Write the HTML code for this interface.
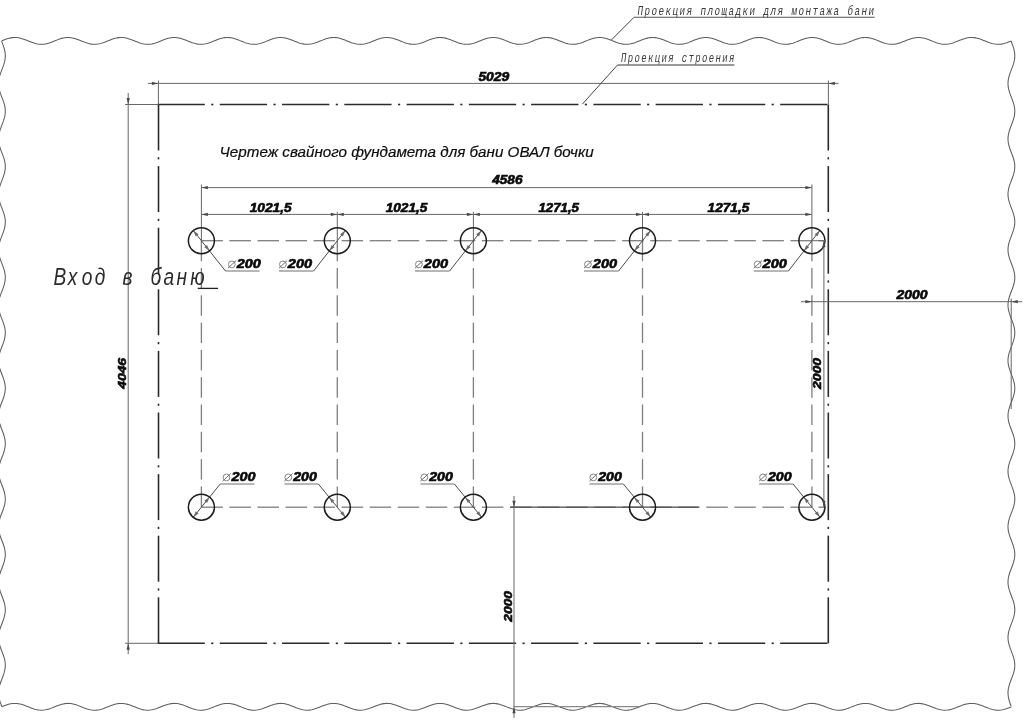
<!DOCTYPE html>
<html><head><meta charset="utf-8"><title>Drawing</title>
<style>html,body{margin:0;padding:0;background:#fff;overflow:hidden;width:1024px;height:724px;font-family:"Liberation Sans",sans-serif}svg{display:block;will-change:transform}</style>
</head><body>
<svg width="1024" height="724" viewBox="0 0 1024 724">
<polyline fill="none" stroke="#5e5e5e" stroke-width="1.05" points="1.9,40.76 3.4,40.17 4.9,39.59 6.39,39.06 7.89,38.59 9.39,38.18 10.89,37.87 12.38,37.64 13.88,37.52 15.38,37.51 16.88,37.6 18.38,37.79 19.87,38.08 21.37,38.46 22.87,38.92 24.37,39.43 25.86,40 27.36,40.59 28.86,41.19 30.36,41.78 31.86,42.35 33.35,42.87 34.85,43.32 36.35,43.71 37.85,44 39.34,44.2 40.84,44.29 42.34,44.28 43.84,44.16 45.34,43.94 46.83,43.63 48.33,43.23 49.83,42.76 51.33,42.22 52.82,41.65 54.32,41.06 55.82,40.46 57.32,39.87 58.82,39.31 60.31,38.81 61.81,38.37 63.31,38.01 64.81,37.74 66.3,37.57 67.8,37.5 69.3,37.54 70.8,37.68 72.3,37.93 73.79,38.27 75.29,38.69 76.79,39.18 78.29,39.72 79.78,40.3 81.28,40.9 82.78,41.5 84.28,42.08 85.78,42.62 87.27,43.11 88.77,43.53 90.27,43.87 91.77,44.11 93.26,44.26 94.76,44.3 96.26,44.23 97.76,44.06 99.26,43.79 100.75,43.43 102.25,42.99 103.75,42.49 105.25,41.93 106.74,41.35 108.24,40.75 109.74,40.15 111.24,39.58 112.74,39.05 114.23,38.57 115.73,38.17 117.23,37.86 118.73,37.64 120.22,37.52 121.72,37.51 123.22,37.6 124.72,37.8 126.22,38.09 127.71,38.47 129.21,38.93 130.71,39.45 132.21,40.01 133.7,40.61 135.2,41.21 136.7,41.8 138.2,42.36 139.7,42.88 141.19,43.34 142.69,43.72 144.19,44.01 145.69,44.2 147.18,44.29 148.68,44.28 150.18,44.16 151.68,43.94 153.18,43.62 154.67,43.22 156.17,42.74 157.67,42.21 159.17,41.64 160.66,41.04 162.16,40.44 163.66,39.85 165.16,39.3 166.66,38.8 168.15,38.36 169.65,38 171.15,37.73 172.65,37.56 174.14,37.5 175.64,37.54 177.14,37.69 178.64,37.94 180.14,38.28 181.63,38.7 183.13,39.19 184.63,39.73 186.13,40.32 187.62,40.91 189.12,41.51 190.62,42.09 192.12,42.63 193.62,43.12 195.11,43.54 196.61,43.88 198.11,44.12 199.61,44.26 201.1,44.3 202.6,44.23 204.1,44.06 205.6,43.78 207.1,43.42 208.59,42.98 210.09,42.47 211.59,41.92 213.09,41.33 214.58,40.73 216.08,40.14 217.58,39.56 219.08,39.03 220.58,38.56 222.07,38.16 223.57,37.85 225.07,37.63 226.57,37.52 228.06,37.51 229.56,37.61 231.06,37.8 232.56,38.1 234.06,38.48 235.55,38.94 237.05,39.46 238.55,40.03 240.05,40.62 241.54,41.22 243.04,41.81 244.54,42.38 246.04,42.89 247.54,43.35 249.03,43.72 250.53,44.01 252.03,44.21 253.53,44.29 255.02,44.28 256.52,44.15 258.02,43.93 259.52,43.61 261.01,43.2 262.51,42.73 264.01,42.19 265.51,41.62 267.01,41.02 268.5,40.42 270,39.84 271.5,39.29 273,38.78 274.49,38.35 275.99,37.99 277.49,37.73 278.99,37.56 280.49,37.5 281.98,37.55 283.48,37.7 284.98,37.95 286.48,38.29 287.97,38.71 289.47,39.21 290.97,39.75 292.47,40.33 293.97,40.93 295.46,41.53 296.96,42.11 298.46,42.65 299.96,43.14 301.45,43.55 302.95,43.89 304.45,44.13 305.95,44.26 307.45,44.3 308.94,44.23 310.44,44.05 311.94,43.77 313.44,43.41 314.93,42.97 316.43,42.46 317.93,41.9 319.43,41.31 320.93,40.71 322.42,40.12 323.92,39.55 325.42,39.02 326.92,38.55 328.41,38.15 329.91,37.84 331.41,37.63 332.91,37.52 334.41,37.51 335.9,37.61 337.4,37.81 338.9,38.11 340.4,38.5 341.89,38.96 343.39,39.48 344.89,40.05 346.39,40.64 347.89,41.24 349.38,41.83 350.88,42.39 352.38,42.91 353.88,43.36 355.37,43.73 356.87,44.02 358.37,44.21 359.87,44.3 361.37,44.27 362.86,44.15 364.36,43.92 365.86,43.6 367.36,43.19 368.85,42.71 370.35,42.18 371.85,41.6 373.35,41.01 374.85,40.41 376.34,39.82 377.84,39.27 379.34,38.77 380.84,38.34 382.33,37.98 383.83,37.72 385.33,37.56 386.83,37.5 388.33,37.55 389.82,37.7 391.32,37.95 392.82,38.3 394.32,38.73 395.81,39.22 397.31,39.77 398.81,40.35 400.31,40.95 401.81,41.55 403.3,42.12 404.8,42.66 406.3,43.15 407.8,43.56 409.29,43.89 410.79,44.13 412.29,44.27 413.79,44.3 415.29,44.22 416.78,44.04 418.28,43.77 419.78,43.4 421.28,42.95 422.77,42.44 424.27,41.89 425.77,41.3 427.27,40.7 428.77,40.1 430.26,39.53 431.76,39.01 433.26,38.54 434.76,38.14 436.25,37.84 437.75,37.62 439.25,37.52 440.75,37.51 442.25,37.61 443.74,37.82 445.24,38.12 446.74,38.51 448.24,38.97 449.73,39.5 451.23,40.06 452.73,40.66 454.23,41.26 455.73,41.85 457.22,42.41 458.72,42.92 460.22,43.37 461.72,43.74 463.21,44.03 464.71,44.21 466.21,44.3 467.71,44.27 469.21,44.14 470.7,43.91 472.2,43.59 473.7,43.18 475.2,42.7 476.69,42.16 478.19,41.59 479.69,40.99 481.19,40.39 482.69,39.81 484.18,39.26 485.68,38.76 487.18,38.33 488.68,37.97 490.17,37.72 491.67,37.56 493.17,37.5 494.67,37.55 496.17,37.71 497.66,37.96 499.16,38.31 500.66,38.74 502.16,39.23 503.65,39.78 505.15,40.37 506.65,40.97 508.15,41.56 509.65,42.14 511.14,42.68 512.64,43.16 514.14,43.57 515.64,43.9 517.13,44.14 518.63,44.27 520.13,44.3 521.63,44.22 523.13,44.04 524.62,43.76 526.12,43.39 527.62,42.94 529.12,42.43 530.61,41.87 532.11,41.28 533.61,40.68 535.11,40.09 536.61,39.52 538.1,38.99 539.6,38.53 541.1,38.13 542.6,37.83 544.09,37.62 545.59,37.51 547.09,37.51 548.59,37.62 550.09,37.83 551.58,38.13 553.08,38.52 554.58,38.99 556.08,39.51 557.57,40.08 559.07,40.67 560.57,41.27 562.07,41.86 563.57,42.42 565.06,42.93 566.56,43.38 568.06,43.75 569.56,44.03 571.05,44.22 572.55,44.3 574.05,44.27 575.55,44.14 577.05,43.9 578.54,43.58 580.04,43.17 581.54,42.68 583.04,42.15 584.53,41.57 586.03,40.97 587.53,40.37 589.03,39.79 590.53,39.24 592.02,38.74 593.52,38.31 595.02,37.97 596.52,37.71 598.01,37.55 599.51,37.5 601.01,37.55 602.51,37.71 604.01,37.97 605.5,38.32 607,38.75 608.5,39.25 610,39.8 611.49,40.38 612.99,40.98 614.49,41.58 615.99,42.16 617.49,42.69 618.98,43.17 620.48,43.58 621.98,43.91 623.48,44.14 624.97,44.27 626.47,44.3 627.97,44.22 629.47,44.03 630.97,43.75 632.46,43.38 633.96,42.93 635.46,42.41 636.96,41.85 638.45,41.26 639.95,40.66 641.45,40.07 642.95,39.5 644.45,38.98 645.94,38.51 647.44,38.12 648.94,37.82 650.44,37.62 651.93,37.51 653.43,37.51 654.93,37.62 656.43,37.83 657.93,38.14 659.42,38.53 660.92,39 662.42,39.53 663.92,40.1 665.41,40.69 666.91,41.29 668.41,41.88 669.91,42.44 671.41,42.95 672.9,43.39 674.4,43.76 675.9,44.04 677.4,44.22 678.89,44.3 680.39,44.27 681.89,44.13 683.39,43.9 684.89,43.57 686.38,43.15 687.88,42.67 689.38,42.13 690.88,41.55 692.37,40.96 693.87,40.36 695.37,39.77 696.87,39.23 698.37,38.73 699.86,38.3 701.36,37.96 702.86,37.7 704.36,37.55 705.85,37.5 707.35,37.56 708.85,37.72 710.35,37.98 711.85,38.33 713.34,38.76 714.84,39.26 716.34,39.81 717.84,40.4 719.33,41 720.83,41.6 722.33,42.17 723.83,42.71 725.33,43.19 726.82,43.59 728.32,43.92 729.82,44.15 731.32,44.27 732.81,44.3 734.31,44.21 735.81,44.02 737.31,43.74 738.81,43.36 740.3,42.91 741.8,42.4 743.3,41.84 744.8,41.25 746.29,40.65 747.79,40.05 749.29,39.49 750.79,38.96 752.29,38.5 753.78,38.11 755.28,37.81 756.78,37.61 758.28,37.51 759.77,37.52 761.27,37.63 762.77,37.84 764.27,38.15 765.76,38.54 767.26,39.01 768.76,39.54 770.26,40.11 771.76,40.71 773.25,41.31 774.75,41.9 776.25,42.45 777.75,42.96 779.24,43.41 780.74,43.77 782.24,44.05 783.74,44.22 785.24,44.3 786.73,44.27 788.23,44.13 789.73,43.89 791.23,43.56 792.72,43.14 794.22,42.66 795.72,42.12 797.22,41.54 798.72,40.94 800.21,40.34 801.71,39.76 803.21,39.21 804.71,38.72 806.2,38.29 807.7,37.95 809.2,37.7 810.7,37.55 812.2,37.5 813.69,37.56 815.19,37.72 816.69,37.99 818.19,38.34 819.68,38.78 821.18,39.28 822.68,39.83 824.18,40.42 825.68,41.02 827.17,41.61 828.67,42.19 830.17,42.72 831.67,43.2 833.16,43.6 834.66,43.92 836.16,44.15 837.66,44.28 839.16,44.29 840.65,44.21 842.15,44.02 843.65,43.73 845.15,43.35 846.64,42.9 848.14,42.38 849.64,41.82 851.14,41.23 852.64,40.63 854.13,40.04 855.63,39.47 857.13,38.95 858.63,38.49 860.12,38.11 861.62,37.81 863.12,37.61 864.62,37.51 866.12,37.52 867.61,37.63 869.11,37.85 870.61,38.16 872.11,38.56 873.6,39.03 875.1,39.56 876.6,40.13 878.1,40.72 879.6,41.32 881.09,41.91 882.59,42.47 884.09,42.97 885.59,43.42 887.08,43.78 888.58,44.05 890.08,44.23 891.58,44.3 893.08,44.26 894.57,44.12 896.07,43.88 897.57,43.55 899.07,43.13 900.56,42.64 902.06,42.1 903.56,41.52 905.06,40.92 906.56,40.32 908.05,39.74 909.55,39.2 911.05,38.7 912.55,38.28 914.04,37.94 915.54,37.69 917.04,37.54 918.54,37.5 920.04,37.56 921.53,37.73 923.03,38 924.53,38.35 926.03,38.79 927.52,39.29 929.02,39.85 930.52,40.43 932.02,41.03 933.52,41.63 935.01,42.2 936.51,42.74 938.01,43.21 939.51,43.61 941,43.93 942.5,44.16 944,44.28 945.5,44.29 947,44.2 948.49,44.01 949.99,43.72 951.49,43.34 952.99,42.89 954.48,42.37 955.98,41.81 957.48,41.21 958.98,40.61 960.48,40.02 961.97,39.46 963.47,38.94 964.97,38.48 966.47,38.1 967.96,37.8 969.46,37.6 970.96,37.51 972.46,37.52 973.96,37.64 975.45,37.86 976.95,38.17 978.45,38.57 979.95,39.04 981.44,39.57 982.94,40.14 984.44,40.74 985.94,41.34 987.44,41.93 988.93,42.48 990.43,42.99 991.93,43.43 993.43,43.79 994.92,44.06 996.42,44.23 997.92,44.3 999.42,44.26 1000.92,44.12 1002.41,43.87 1003.91,43.54 1005.41,43.12 1006.91,42.63 1008.4,42.08 1009.9,41.5 1011.4,40.91"/>
<polyline fill="none" stroke="#5e5e5e" stroke-width="1.05" points="1.9,706.66 3.4,706.07 4.9,705.49 6.39,704.96 7.89,704.49 9.39,704.08 10.89,703.77 12.38,703.54 13.88,703.42 15.38,703.41 16.88,703.5 18.38,703.69 19.87,703.98 21.37,704.36 22.87,704.82 24.37,705.33 25.86,705.9 27.36,706.49 28.86,707.09 30.36,707.68 31.86,708.25 33.35,708.77 34.85,709.22 36.35,709.61 37.85,709.9 39.34,710.1 40.84,710.19 42.34,710.18 43.84,710.06 45.34,709.84 46.83,709.53 48.33,709.13 49.83,708.66 51.33,708.12 52.82,707.55 54.32,706.96 55.82,706.36 57.32,705.77 58.82,705.21 60.31,704.71 61.81,704.27 63.31,703.91 64.81,703.64 66.3,703.47 67.8,703.4 69.3,703.44 70.8,703.58 72.3,703.83 73.79,704.17 75.29,704.59 76.79,705.08 78.29,705.62 79.78,706.2 81.28,706.8 82.78,707.4 84.28,707.98 85.78,708.52 87.27,709.01 88.77,709.43 90.27,709.77 91.77,710.01 93.26,710.16 94.76,710.2 96.26,710.13 97.76,709.96 99.26,709.69 100.75,709.33 102.25,708.89 103.75,708.39 105.25,707.83 106.74,707.25 108.24,706.65 109.74,706.05 111.24,705.48 112.74,704.95 114.23,704.47 115.73,704.07 117.23,703.76 118.73,703.54 120.22,703.42 121.72,703.41 123.22,703.5 124.72,703.7 126.22,703.99 127.71,704.37 129.21,704.83 130.71,705.35 132.21,705.91 133.7,706.51 135.2,707.11 136.7,707.7 138.2,708.26 139.7,708.78 141.19,709.24 142.69,709.62 144.19,709.91 145.69,710.1 147.18,710.19 148.68,710.18 150.18,710.06 151.68,709.84 153.18,709.52 154.67,709.12 156.17,708.64 157.67,708.11 159.17,707.54 160.66,706.94 162.16,706.34 163.66,705.75 165.16,705.2 166.66,704.7 168.15,704.26 169.65,703.9 171.15,703.63 172.65,703.46 174.14,703.4 175.64,703.44 177.14,703.59 178.64,703.84 180.14,704.18 181.63,704.6 183.13,705.09 184.63,705.63 186.13,706.22 187.62,706.81 189.12,707.41 190.62,707.99 192.12,708.53 193.62,709.02 195.11,709.44 196.61,709.78 198.11,710.02 199.61,710.16 201.1,710.2 202.6,710.13 204.1,709.96 205.6,709.68 207.1,709.32 208.59,708.88 210.09,708.37 211.59,707.82 213.09,707.23 214.58,706.63 216.08,706.04 217.58,705.46 219.08,704.93 220.58,704.46 222.07,704.06 223.57,703.75 225.07,703.53 226.57,703.42 228.06,703.41 229.56,703.51 231.06,703.7 232.56,704 234.06,704.38 235.55,704.84 237.05,705.36 238.55,705.93 240.05,706.52 241.54,707.12 243.04,707.71 244.54,708.28 246.04,708.79 247.54,709.25 249.03,709.62 250.53,709.91 252.03,710.11 253.53,710.19 255.02,710.18 256.52,710.05 258.02,709.83 259.52,709.51 261.01,709.1 262.51,708.63 264.01,708.09 265.51,707.52 267.01,706.92 268.5,706.32 270,705.74 271.5,705.19 273,704.68 274.49,704.25 275.99,703.89 277.49,703.63 278.99,703.46 280.49,703.4 281.98,703.45 283.48,703.6 284.98,703.85 286.48,704.19 287.97,704.61 289.47,705.11 290.97,705.65 292.47,706.23 293.97,706.83 295.46,707.43 296.96,708.01 298.46,708.55 299.96,709.04 301.45,709.45 302.95,709.79 304.45,710.03 305.95,710.16 307.45,710.2 308.94,710.13 310.44,709.95 311.94,709.67 313.44,709.31 314.93,708.87 316.43,708.36 317.93,707.8 319.43,707.21 320.93,706.61 322.42,706.02 323.92,705.45 325.42,704.92 326.92,704.45 328.41,704.05 329.91,703.74 331.41,703.53 332.91,703.42 334.41,703.41 335.9,703.51 337.4,703.71 338.9,704.01 340.4,704.4 341.89,704.86 343.39,705.38 344.89,705.95 346.39,706.54 347.89,707.14 349.38,707.73 350.88,708.29 352.38,708.81 353.88,709.26 355.37,709.63 356.87,709.92 358.37,710.11 359.87,710.2 361.37,710.17 362.86,710.05 364.36,709.82 365.86,709.5 367.36,709.09 368.85,708.61 370.35,708.08 371.85,707.5 373.35,706.91 374.85,706.31 376.34,705.72 377.84,705.17 379.34,704.67 380.84,704.24 382.33,703.88 383.83,703.62 385.33,703.46 386.83,703.4 388.33,703.45 389.82,703.6 391.32,703.85 392.82,704.2 394.32,704.63 395.81,705.12 397.31,705.67 398.81,706.25 400.31,706.85 401.81,707.45 403.3,708.02 404.8,708.56 406.3,709.05 407.8,709.46 409.29,709.79 410.79,710.03 412.29,710.17 413.79,710.2 415.29,710.12 416.78,709.94 418.28,709.67 419.78,709.3 421.28,708.85 422.77,708.34 424.27,707.79 425.77,707.2 427.27,706.6 428.77,706 430.26,705.43 431.76,704.91 433.26,704.44 434.76,704.04 436.25,703.74 437.75,703.52 439.25,703.42 440.75,703.41 442.25,703.51 443.74,703.72 445.24,704.02 446.74,704.41 448.24,704.87 449.73,705.4 451.23,705.96 452.73,706.56 454.23,707.16 455.73,707.75 457.22,708.31 458.72,708.82 460.22,709.27 461.72,709.64 463.21,709.93 464.71,710.11 466.21,710.2 467.71,710.17 469.21,710.04 470.7,709.81 472.2,709.49 473.7,709.08 475.2,708.6 476.69,708.06 478.19,707.49 479.69,706.89 481.19,706.29 482.69,705.71 484.18,705.16 485.68,704.66 487.18,704.23 488.68,703.87 490.17,703.62 491.67,703.46 493.17,703.4 494.67,703.45 496.17,703.61 497.66,703.86 499.16,704.21 500.66,704.64 502.16,705.13 503.65,705.68 505.15,706.27 506.65,706.87 508.15,707.46 509.65,708.04 511.14,708.58 512.64,709.06 514.14,709.47 515.64,709.8 517.13,710.04 518.63,710.17 520.13,710.2 521.63,710.12 523.13,709.94 524.62,709.66 526.12,709.29 527.62,708.84 529.12,708.33 530.61,707.77 532.11,707.18 533.61,706.58 535.11,705.99 536.61,705.42 538.1,704.89 539.6,704.43 541.1,704.03 542.6,703.73 544.09,703.52 545.59,703.41 547.09,703.41 548.59,703.52 550.09,703.73 551.58,704.03 553.08,704.42 554.58,704.89 556.08,705.41 557.57,705.98 559.07,706.57 560.57,707.17 562.07,707.76 563.57,708.32 565.06,708.83 566.56,709.28 568.06,709.65 569.56,709.93 571.05,710.12 572.55,710.2 574.05,710.17 575.55,710.04 577.05,709.8 578.54,709.48 580.04,709.07 581.54,708.58 583.04,708.05 584.53,707.47 586.03,706.87 587.53,706.27 589.03,705.69 590.53,705.14 592.02,704.64 593.52,704.21 595.02,703.87 596.52,703.61 598.01,703.45 599.51,703.4 601.01,703.45 602.51,703.61 604.01,703.87 605.5,704.22 607,704.65 608.5,705.15 610,705.7 611.49,706.28 612.99,706.88 614.49,707.48 615.99,708.06 617.49,708.59 618.98,709.07 620.48,709.48 621.98,709.81 623.48,710.04 624.97,710.17 626.47,710.2 627.97,710.12 629.47,709.93 630.97,709.65 632.46,709.28 633.96,708.83 635.46,708.31 636.96,707.75 638.45,707.16 639.95,706.56 641.45,705.97 642.95,705.4 644.45,704.88 645.94,704.41 647.44,704.02 648.94,703.72 650.44,703.52 651.93,703.41 653.43,703.41 654.93,703.52 656.43,703.73 657.93,704.04 659.42,704.43 660.92,704.9 662.42,705.43 663.92,706 665.41,706.59 666.91,707.19 668.41,707.78 669.91,708.34 671.41,708.85 672.9,709.29 674.4,709.66 675.9,709.94 677.4,710.12 678.89,710.2 680.39,710.17 681.89,710.03 683.39,709.8 684.89,709.47 686.38,709.05 687.88,708.57 689.38,708.03 690.88,707.45 692.37,706.86 693.87,706.26 695.37,705.67 696.87,705.13 698.37,704.63 699.86,704.2 701.36,703.86 702.86,703.6 704.36,703.45 705.85,703.4 707.35,703.46 708.85,703.62 710.35,703.88 711.85,704.23 713.34,704.66 714.84,705.16 716.34,705.71 717.84,706.3 719.33,706.9 720.83,707.5 722.33,708.07 723.83,708.61 725.33,709.09 726.82,709.49 728.32,709.82 729.82,710.05 731.32,710.17 732.81,710.2 734.31,710.11 735.81,709.92 737.31,709.64 738.81,709.26 740.3,708.81 741.8,708.3 743.3,707.74 744.8,707.15 746.29,706.55 747.79,705.95 749.29,705.39 750.79,704.86 752.29,704.4 753.78,704.01 755.28,703.71 756.78,703.51 758.28,703.41 759.77,703.42 761.27,703.53 762.77,703.74 764.27,704.05 765.76,704.44 767.26,704.91 768.76,705.44 770.26,706.01 771.76,706.61 773.25,707.21 774.75,707.8 776.25,708.35 777.75,708.86 779.24,709.31 780.74,709.67 782.24,709.95 783.74,710.12 785.24,710.2 786.73,710.17 788.23,710.03 789.73,709.79 791.23,709.46 792.72,709.04 794.22,708.56 795.72,708.02 797.22,707.44 798.72,706.84 800.21,706.24 801.71,705.66 803.21,705.11 804.71,704.62 806.2,704.19 807.7,703.85 809.2,703.6 810.7,703.45 812.2,703.4 813.69,703.46 815.19,703.62 816.69,703.89 818.19,704.24 819.68,704.68 821.18,705.18 822.68,705.73 824.18,706.32 825.68,706.92 827.17,707.51 828.67,708.09 830.17,708.62 831.67,709.1 833.16,709.5 834.66,709.82 836.16,710.05 837.66,710.18 839.16,710.19 840.65,710.11 842.15,709.92 843.65,709.63 845.15,709.25 846.64,708.8 848.14,708.28 849.64,707.72 851.14,707.13 852.64,706.53 854.13,705.94 855.63,705.37 857.13,704.85 858.63,704.39 860.12,704.01 861.62,703.71 863.12,703.51 864.62,703.41 866.12,703.42 867.61,703.53 869.11,703.75 870.61,704.06 872.11,704.46 873.6,704.93 875.1,705.46 876.6,706.03 878.1,706.62 879.6,707.22 881.09,707.81 882.59,708.37 884.09,708.87 885.59,709.32 887.08,709.68 888.58,709.95 890.08,710.13 891.58,710.2 893.08,710.16 894.57,710.02 896.07,709.78 897.57,709.45 899.07,709.03 900.56,708.54 902.06,708 903.56,707.42 905.06,706.82 906.56,706.22 908.05,705.64 909.55,705.1 911.05,704.6 912.55,704.18 914.04,703.84 915.54,703.59 917.04,703.44 918.54,703.4 920.04,703.46 921.53,703.63 923.03,703.9 924.53,704.25 926.03,704.69 927.52,705.19 929.02,705.75 930.52,706.33 932.02,706.93 933.52,707.53 935.01,708.1 936.51,708.64 938.01,709.11 939.51,709.51 941,709.83 942.5,710.06 944,710.18 945.5,710.19 947,710.1 948.49,709.91 949.99,709.62 951.49,709.24 952.99,708.79 954.48,708.27 955.98,707.71 957.48,707.11 958.98,706.51 960.48,705.92 961.97,705.36 963.47,704.84 964.97,704.38 966.47,704 967.96,703.7 969.46,703.5 970.96,703.41 972.46,703.42 973.96,703.54 975.45,703.76 976.95,704.07 978.45,704.47 979.95,704.94 981.44,705.47 982.94,706.04 984.44,706.64 985.94,707.24 987.44,707.83 988.93,708.38 990.43,708.89 991.93,709.33 993.43,709.69 994.92,709.96 996.42,710.13 997.92,710.2 999.42,710.16 1000.92,710.02 1002.41,709.77 1003.91,709.44 1005.41,709.02 1006.91,708.53 1008.4,707.98 1009.9,707.4 1011.4,706.81"/>
<polyline fill="none" stroke="#5e5e5e" stroke-width="1.05" points="1.5,40.9 2.07,42.4 2.65,43.9 3.2,45.4 3.71,46.9 4.17,48.4 4.57,49.9 4.88,51.4 5.12,52.9 5.26,54.4 5.3,55.9 5.24,57.4 5.09,58.89 4.85,60.39 4.52,61.89 4.12,63.39 3.65,64.89 3.13,66.39 2.57,67.89 2,69.39 1.42,70.89 0.86,72.39 0.33,73.89 -0.16,75.39 -0.59,76.89 -0.94,78.39 -1.22,79.89 -1.4,81.39 -1.49,82.89 -1.48,84.39 -1.38,85.89 -1.18,87.39 -0.89,88.89 -0.52,90.39 -0.08,91.88 0.42,93.38 0.96,94.88 1.53,96.38 2.11,97.88 2.68,99.38 3.23,100.88 3.74,102.38 4.19,103.88 4.59,105.38 4.9,106.88 5.13,108.38 5.26,109.88 5.3,111.38 5.24,112.88 5.08,114.38 4.83,115.88 4.5,117.38 4.09,118.88 3.62,120.38 3.1,121.88 2.54,123.38 1.97,124.87 1.39,126.37 0.83,127.87 0.3,129.37 -0.19,130.87 -0.61,132.37 -0.96,133.87 -1.23,135.37 -1.41,136.87 -1.49,138.37 -1.48,139.87 -1.37,141.37 -1.16,142.87 -0.87,144.37 -0.49,145.87 -0.05,147.37 0.45,148.87 0.99,150.37 1.56,151.87 2.14,153.37 2.71,154.87 3.26,156.37 3.76,157.86 4.22,159.36 4.61,160.86 4.92,162.36 5.14,163.86 5.27,165.36 5.3,166.86 5.23,168.36 5.07,169.86 4.82,171.36 4.48,172.86 4.07,174.36 3.59,175.86 3.07,177.36 2.51,178.86 1.94,180.36 1.36,181.86 0.8,183.36 0.27,184.86 -0.21,186.36 -0.63,187.86 -0.98,189.36 -1.24,190.85 -1.42,192.35 -1.5,193.85 -1.48,195.35 -1.36,196.85 -1.15,198.35 -0.85,199.85 -0.47,201.35 -0.02,202.85 0.48,204.35 1.02,205.85 1.59,207.35 2.17,208.85 2.74,210.35 3.28,211.85 3.79,213.35 4.24,214.85 4.62,216.35 4.93,217.85 5.15,219.35 5.27,220.85 5.3,222.35 5.23,223.85 5.06,225.34 4.8,226.84 4.46,228.34 4.04,229.84 3.56,231.34 3.04,232.84 2.48,234.34 1.9,235.84 1.33,237.34 0.77,238.84 0.24,240.34 -0.24,241.84 -0.65,243.34 -1,244.84 -1.26,246.34 -1.42,247.84 -1.5,249.34 -1.47,250.84 -1.35,252.34 -1.13,253.84 -0.83,255.34 -0.45,256.84 0,258.33 0.51,259.83 1.05,261.33 1.62,262.83 2.2,264.33 2.77,265.83 3.31,267.33 3.82,268.83 4.26,270.33 4.64,271.83 4.94,273.33 5.16,274.83 5.27,276.33 5.3,277.83 5.22,279.33 5.05,280.83 4.78,282.33 4.44,283.83 4.02,285.33 3.54,286.83 3.01,288.33 2.45,289.83 1.87,291.32 1.3,292.82 0.74,294.32 0.21,295.82 -0.26,297.32 -0.67,298.82 -1.01,300.32 -1.27,301.82 -1.43,303.32 -1.5,304.82 -1.47,306.32 -1.34,307.82 -1.12,309.32 -0.81,310.82 -0.42,312.32 0.03,313.82 0.54,315.32 1.09,316.82 1.66,318.32 2.23,319.82 2.8,321.32 3.34,322.82 3.84,324.31 4.29,325.81 4.66,327.31 4.96,328.81 5.17,330.31 5.28,331.81 5.29,333.31 5.21,334.81 5.03,336.31 4.77,337.81 4.41,339.31 3.99,340.81 3.51,342.31 2.98,343.81 2.42,345.31 1.84,346.81 1.26,348.31 0.71,349.81 0.19,351.31 -0.29,352.81 -0.69,354.31 -1.03,355.81 -1.28,357.3 -1.44,358.8 -1.5,360.3 -1.46,361.8 -1.33,363.3 -1.1,364.8 -0.79,366.3 -0.4,367.8 0.06,369.3 0.57,370.8 1.12,372.3 1.69,373.8 2.27,375.3 2.83,376.8 3.37,378.3 3.87,379.8 4.31,381.3 4.68,382.8 4.97,384.3 5.17,385.8 5.28,387.3 5.29,388.8 5.2,390.3 5.02,391.79 4.75,393.29 4.39,394.79 3.97,396.29 3.48,397.79 2.95,399.29 2.38,400.79 1.81,402.29 1.23,403.79 0.68,405.29 0.16,406.79 -0.31,408.29 -0.72,409.79 -1.05,411.29 -1.29,412.79 -1.44,414.29 -1.5,415.79 -1.46,417.29 -1.32,418.79 -1.09,420.29 -0.77,421.79 -0.38,423.29 0.08,424.78 0.6,426.28 1.15,427.78 1.72,429.28 2.3,430.78 2.86,432.28 3.4,433.78 3.9,435.28 4.33,436.78 4.7,438.28 4.99,439.78 5.18,441.28 5.29,442.78 5.29,444.28 5.2,445.78 5.01,447.28 4.73,448.78 4.37,450.28 3.94,451.78 3.45,453.28 2.92,454.78 2.35,456.28 1.77,457.77 1.2,459.27 0.65,460.77 0.13,462.27 -0.33,463.77 -0.74,465.27 -1.06,466.77 -1.3,468.27 -1.45,469.77 -1.5,471.27 -1.45,472.77 -1.31,474.27 -1.07,475.77 -0.75,477.27 -0.35,478.77 0.11,480.27 0.63,481.77 1.18,483.27 1.75,484.77 2.33,486.27 2.89,487.77 3.43,489.27 3.92,490.76 4.36,492.26 4.72,493.76 5,495.26 5.19,496.76 5.29,498.26 5.29,499.76 5.19,501.26 5,502.76 4.71,504.26 4.35,505.76 3.91,507.26 3.42,508.76 2.88,510.26 2.32,511.76 1.74,513.26 1.17,514.76 0.62,516.26 0.1,517.76 -0.36,519.26 -0.76,520.76 -1.08,522.26 -1.31,523.75 -1.45,525.25 -1.5,526.75 -1.45,528.25 -1.3,529.75 -1.06,531.25 -0.73,532.75 -0.33,534.25 0.14,535.75 0.66,537.25 1.21,538.75 1.78,540.25 2.36,541.75 2.92,543.25 3.46,544.75 3.95,546.25 4.38,547.75 4.74,549.25 5.01,550.75 5.2,552.25 5.29,553.75 5.28,555.25 5.18,556.75 4.98,558.24 4.69,559.74 4.33,561.24 3.89,562.74 3.39,564.24 2.85,565.74 2.29,567.24 1.71,568.74 1.14,570.24 0.59,571.74 0.08,573.24 -0.38,574.74 -0.78,576.24 -1.09,577.74 -1.32,579.24 -1.46,580.74 -1.5,582.24 -1.44,583.74 -1.29,585.24 -1.04,586.74 -0.71,588.24 -0.3,589.74 0.17,591.23 0.69,592.73 1.24,594.23 1.82,595.73 2.39,597.23 2.96,598.73 3.49,600.23 3.97,601.73 4.4,603.23 4.75,604.73 5.03,606.23 5.21,607.73 5.29,609.23 5.28,610.73 5.17,612.23 4.97,613.73 4.68,615.23 4.3,616.73 3.86,618.23 3.36,619.73 2.82,621.23 2.26,622.73 1.68,624.22 1.11,625.72 0.56,627.22 0.05,628.72 -0.41,630.22 -0.8,631.72 -1.11,633.22 -1.33,634.72 -1.46,636.22 -1.5,637.72 -1.44,639.22 -1.28,640.72 -1.02,642.22 -0.69,643.72 -0.28,645.22 0.19,646.72 0.72,648.22 1.27,649.72 1.85,651.22 2.42,652.72 2.99,654.22 3.52,655.72 4,657.21 4.42,658.71 4.77,660.21 5.04,661.71 5.21,663.21 5.29,664.71 5.28,666.21 5.16,667.71 4.95,669.21 4.66,670.71 4.28,672.21 3.84,673.71 3.33,675.21 2.79,676.71 2.22,678.21 1.65,679.71 1.08,681.21 0.53,682.71 0.02,684.21 -0.43,685.71 -0.82,687.21 -1.12,688.71 -1.34,690.2 -1.47,691.7 -1.5,693.2 -1.43,694.7 -1.26,696.2 -1.01,697.7 -0.67,699.2 -0.25,700.7 0.22,702.2 0.75,703.7 1.31,705.2 1.88,706.7"/>
<polyline fill="none" stroke="#5e5e5e" stroke-width="1.05" points="1011.11,41.2 1011.69,42.7 1012.26,44.19 1012.8,45.69 1013.3,47.19 1013.75,48.69 1014.13,50.18 1014.44,51.68 1014.65,53.18 1014.77,54.68 1014.8,56.17 1014.72,57.67 1014.56,59.17 1014.3,60.66 1013.95,62.16 1013.54,63.66 1013.06,65.16 1012.53,66.65 1011.98,68.15 1011.4,69.65 1010.83,71.15 1010.27,72.64 1009.74,74.14 1009.26,75.64 1008.85,77.14 1008.51,78.63 1008.25,80.13 1008.08,81.63 1008,83.12 1008.03,84.62 1008.15,86.12 1008.36,87.62 1008.67,89.11 1009.05,90.61 1009.5,92.11 1010,93.61 1010.54,95.1 1011.11,96.6 1011.69,98.1 1012.26,99.59 1012.8,101.09 1013.3,102.59 1013.75,104.09 1014.13,105.58 1014.44,107.08 1014.65,108.58 1014.77,110.08 1014.8,111.57 1014.72,113.07 1014.56,114.57 1014.3,116.06 1013.95,117.56 1013.54,119.06 1013.06,120.56 1012.53,122.05 1011.98,123.55 1011.4,125.05 1010.83,126.55 1010.27,128.04 1009.74,129.54 1009.26,131.04 1008.85,132.54 1008.51,134.03 1008.25,135.53 1008.08,137.03 1008,138.52 1008.03,140.02 1008.15,141.52 1008.36,143.02 1008.67,144.51 1009.05,146.01 1009.5,147.51 1010,149.01 1010.54,150.5 1011.11,152 1011.69,153.5 1012.26,154.99 1012.8,156.49 1013.3,157.99 1013.75,159.49 1014.13,160.98 1014.44,162.48 1014.65,163.98 1014.77,165.48 1014.8,166.97 1014.72,168.47 1014.56,169.97 1014.3,171.46 1013.95,172.96 1013.54,174.46 1013.06,175.96 1012.53,177.45 1011.98,178.95 1011.4,180.45 1010.83,181.95 1010.27,183.44 1009.74,184.94 1009.26,186.44 1008.85,187.94 1008.51,189.43 1008.25,190.93 1008.08,192.43 1008,193.92 1008.03,195.42 1008.15,196.92 1008.36,198.42 1008.67,199.91 1009.05,201.41 1009.5,202.91 1010,204.41 1010.54,205.9 1011.11,207.4 1011.69,208.9 1012.26,210.39 1012.8,211.89 1013.3,213.39 1013.75,214.89 1014.13,216.38 1014.44,217.88 1014.65,219.38 1014.77,220.88 1014.8,222.37 1014.72,223.87 1014.56,225.37 1014.3,226.86 1013.95,228.36 1013.54,229.86 1013.06,231.36 1012.53,232.85 1011.98,234.35 1011.4,235.85 1010.83,237.35 1010.27,238.84 1009.74,240.34 1009.26,241.84 1008.85,243.34 1008.51,244.83 1008.25,246.33 1008.08,247.83 1008,249.32 1008.03,250.82 1008.15,252.32 1008.36,253.82 1008.67,255.31 1009.05,256.81 1009.5,258.31 1010,259.81 1010.54,261.3 1011.11,262.8 1011.69,264.3 1012.26,265.79 1012.8,267.29 1013.3,268.79 1013.75,270.29 1014.13,271.78 1014.44,273.28 1014.65,274.78 1014.77,276.28 1014.8,277.77 1014.72,279.27 1014.56,280.77 1014.3,282.26 1013.95,283.76 1013.54,285.26 1013.06,286.76 1012.53,288.25 1011.98,289.75 1011.4,291.25 1010.83,292.75 1010.27,294.24 1009.74,295.74 1009.26,297.24 1008.85,298.74 1008.51,300.23 1008.25,301.73 1008.08,303.23 1008,304.72 1008.03,306.22 1008.15,307.72 1008.36,309.22 1008.67,310.71 1009.05,312.21 1009.5,313.71 1010,315.21 1010.54,316.7 1011.11,318.2 1011.69,319.7 1012.26,321.19 1012.8,322.69 1013.3,324.19 1013.75,325.69 1014.13,327.18 1014.44,328.68 1014.65,330.18 1014.77,331.68 1014.8,333.17 1014.72,334.67 1014.56,336.17 1014.3,337.66 1013.95,339.16 1013.54,340.66 1013.06,342.16 1012.53,343.65 1011.98,345.15 1011.4,346.65 1010.83,348.15 1010.27,349.64 1009.74,351.14 1009.26,352.64 1008.85,354.14 1008.51,355.63 1008.25,357.13 1008.08,358.63 1008,360.12 1008.03,361.62 1008.15,363.12 1008.36,364.62 1008.67,366.11 1009.05,367.61 1009.5,369.11 1010,370.61 1010.54,372.1 1011.11,373.6 1011.69,375.1 1012.26,376.59 1012.8,378.09 1013.3,379.59 1013.75,381.09 1014.13,382.58 1014.44,384.08 1014.65,385.58 1014.77,387.08 1014.8,388.57 1014.72,390.07 1014.56,391.57 1014.3,393.06 1013.95,394.56 1013.54,396.06 1013.06,397.56 1012.53,399.05 1011.98,400.55 1011.4,402.05 1010.83,403.55 1010.27,405.04 1009.74,406.54 1009.26,408.04 1008.85,409.54 1008.51,411.03 1008.25,412.53 1008.08,414.03 1008,415.52 1008.03,417.02 1008.15,418.52 1008.36,420.02 1008.67,421.51 1009.05,423.01 1009.5,424.51 1010,426.01 1010.54,427.5 1011.11,429 1011.69,430.5 1012.26,431.99 1012.8,433.49 1013.3,434.99 1013.75,436.49 1014.13,437.98 1014.44,439.48 1014.65,440.98 1014.77,442.48 1014.8,443.97 1014.72,445.47 1014.56,446.97 1014.3,448.46 1013.95,449.96 1013.54,451.46 1013.06,452.96 1012.53,454.45 1011.98,455.95 1011.4,457.45 1010.83,458.95 1010.27,460.44 1009.74,461.94 1009.26,463.44 1008.85,464.94 1008.51,466.43 1008.25,467.93 1008.08,469.43 1008,470.92 1008.03,472.42 1008.15,473.92 1008.36,475.42 1008.67,476.91 1009.05,478.41 1009.5,479.91 1010,481.41 1010.54,482.9 1011.11,484.4 1011.69,485.9 1012.26,487.39 1012.8,488.89 1013.3,490.39 1013.75,491.89 1014.13,493.38 1014.44,494.88 1014.65,496.38 1014.77,497.88 1014.8,499.37 1014.72,500.87 1014.56,502.37 1014.3,503.86 1013.95,505.36 1013.54,506.86 1013.06,508.36 1012.53,509.85 1011.98,511.35 1011.4,512.85 1010.83,514.35 1010.27,515.84 1009.74,517.34 1009.26,518.84 1008.85,520.34 1008.51,521.83 1008.25,523.33 1008.08,524.83 1008,526.32 1008.03,527.82 1008.15,529.32 1008.36,530.82 1008.67,532.31 1009.05,533.81 1009.5,535.31 1010,536.81 1010.54,538.3 1011.11,539.8 1011.69,541.3 1012.26,542.79 1012.8,544.29 1013.3,545.79 1013.75,547.29 1014.13,548.78 1014.44,550.28 1014.65,551.78 1014.77,553.28 1014.8,554.77 1014.72,556.27 1014.56,557.77 1014.3,559.26 1013.95,560.76 1013.54,562.26 1013.06,563.76 1012.53,565.25 1011.98,566.75 1011.4,568.25 1010.83,569.75 1010.27,571.24 1009.74,572.74 1009.26,574.24 1008.85,575.74 1008.51,577.23 1008.25,578.73 1008.08,580.23 1008,581.72 1008.03,583.22 1008.15,584.72 1008.36,586.22 1008.67,587.71 1009.05,589.21 1009.5,590.71 1010,592.21 1010.54,593.7 1011.11,595.2 1011.69,596.7 1012.26,598.19 1012.8,599.69 1013.3,601.19 1013.75,602.69 1014.13,604.18 1014.44,605.68 1014.65,607.18 1014.77,608.68 1014.8,610.17 1014.72,611.67 1014.56,613.17 1014.3,614.66 1013.95,616.16 1013.54,617.66 1013.06,619.16 1012.53,620.65 1011.98,622.15 1011.4,623.65 1010.83,625.15 1010.27,626.64 1009.74,628.14 1009.26,629.64 1008.85,631.14 1008.51,632.63 1008.25,634.13 1008.08,635.63 1008,637.12 1008.03,638.62 1008.15,640.12 1008.36,641.62 1008.67,643.11 1009.05,644.61 1009.5,646.11 1010,647.61 1010.54,649.1 1011.11,650.6 1011.69,652.1 1012.26,653.59 1012.8,655.09 1013.3,656.59 1013.75,658.09 1014.13,659.58 1014.44,661.08 1014.65,662.58 1014.77,664.08 1014.8,665.57 1014.72,667.07 1014.56,668.57 1014.3,670.06 1013.95,671.56 1013.54,673.06 1013.06,674.56 1012.53,676.05 1011.98,677.55 1011.4,679.05 1010.83,680.55 1010.27,682.04 1009.74,683.54 1009.26,685.04 1008.85,686.54 1008.51,688.03 1008.25,689.53 1008.08,691.03 1008,692.52 1008.03,694.02 1008.15,695.52 1008.36,697.02 1008.67,698.51 1009.05,700.01 1009.5,701.51 1010,703.01 1010.54,704.5 1011.11,706"/>
<line x1="157.5" y1="104.5" x2="204.8" y2="104.5" stroke="#2a2a2a" stroke-width="1.6" stroke-linecap="butt"/>
<line x1="211.19" y1="104.5" x2="213.39" y2="104.5" stroke="#2a2a2a" stroke-width="1.6" stroke-linecap="butt"/>
<line x1="219.77" y1="104.5" x2="267.07" y2="104.5" stroke="#2a2a2a" stroke-width="1.6" stroke-linecap="butt"/>
<line x1="273.45" y1="104.5" x2="275.66" y2="104.5" stroke="#2a2a2a" stroke-width="1.6" stroke-linecap="butt"/>
<line x1="282.04" y1="104.5" x2="329.34" y2="104.5" stroke="#2a2a2a" stroke-width="1.6" stroke-linecap="butt"/>
<line x1="335.73" y1="104.5" x2="337.93" y2="104.5" stroke="#2a2a2a" stroke-width="1.6" stroke-linecap="butt"/>
<line x1="344.31" y1="104.5" x2="391.61" y2="104.5" stroke="#2a2a2a" stroke-width="1.6" stroke-linecap="butt"/>
<line x1="398" y1="104.5" x2="400.2" y2="104.5" stroke="#2a2a2a" stroke-width="1.6" stroke-linecap="butt"/>
<line x1="406.58" y1="104.5" x2="453.88" y2="104.5" stroke="#2a2a2a" stroke-width="1.6" stroke-linecap="butt"/>
<line x1="460.26" y1="104.5" x2="462.47" y2="104.5" stroke="#2a2a2a" stroke-width="1.6" stroke-linecap="butt"/>
<line x1="468.85" y1="104.5" x2="516.15" y2="104.5" stroke="#2a2a2a" stroke-width="1.6" stroke-linecap="butt"/>
<line x1="522.53" y1="104.5" x2="524.74" y2="104.5" stroke="#2a2a2a" stroke-width="1.6" stroke-linecap="butt"/>
<line x1="531.12" y1="104.5" x2="578.42" y2="104.5" stroke="#2a2a2a" stroke-width="1.6" stroke-linecap="butt"/>
<line x1="584.8" y1="104.5" x2="587" y2="104.5" stroke="#2a2a2a" stroke-width="1.6" stroke-linecap="butt"/>
<line x1="593.39" y1="104.5" x2="640.69" y2="104.5" stroke="#2a2a2a" stroke-width="1.6" stroke-linecap="butt"/>
<line x1="647.07" y1="104.5" x2="649.27" y2="104.5" stroke="#2a2a2a" stroke-width="1.6" stroke-linecap="butt"/>
<line x1="655.66" y1="104.5" x2="702.96" y2="104.5" stroke="#2a2a2a" stroke-width="1.6" stroke-linecap="butt"/>
<line x1="709.34" y1="104.5" x2="711.54" y2="104.5" stroke="#2a2a2a" stroke-width="1.6" stroke-linecap="butt"/>
<line x1="717.93" y1="104.5" x2="765.23" y2="104.5" stroke="#2a2a2a" stroke-width="1.6" stroke-linecap="butt"/>
<line x1="771.61" y1="104.5" x2="773.81" y2="104.5" stroke="#2a2a2a" stroke-width="1.6" stroke-linecap="butt"/>
<line x1="780.2" y1="104.5" x2="827.5" y2="104.5" stroke="#2a2a2a" stroke-width="1.6" stroke-linecap="butt"/>
<line x1="157.5" y1="643.3" x2="204.8" y2="643.3" stroke="#2a2a2a" stroke-width="1.6" stroke-linecap="butt"/>
<line x1="211.19" y1="643.3" x2="213.39" y2="643.3" stroke="#2a2a2a" stroke-width="1.6" stroke-linecap="butt"/>
<line x1="219.77" y1="643.3" x2="267.07" y2="643.3" stroke="#2a2a2a" stroke-width="1.6" stroke-linecap="butt"/>
<line x1="273.45" y1="643.3" x2="275.66" y2="643.3" stroke="#2a2a2a" stroke-width="1.6" stroke-linecap="butt"/>
<line x1="282.04" y1="643.3" x2="329.34" y2="643.3" stroke="#2a2a2a" stroke-width="1.6" stroke-linecap="butt"/>
<line x1="335.73" y1="643.3" x2="337.93" y2="643.3" stroke="#2a2a2a" stroke-width="1.6" stroke-linecap="butt"/>
<line x1="344.31" y1="643.3" x2="391.61" y2="643.3" stroke="#2a2a2a" stroke-width="1.6" stroke-linecap="butt"/>
<line x1="398" y1="643.3" x2="400.2" y2="643.3" stroke="#2a2a2a" stroke-width="1.6" stroke-linecap="butt"/>
<line x1="406.58" y1="643.3" x2="453.88" y2="643.3" stroke="#2a2a2a" stroke-width="1.6" stroke-linecap="butt"/>
<line x1="460.26" y1="643.3" x2="462.47" y2="643.3" stroke="#2a2a2a" stroke-width="1.6" stroke-linecap="butt"/>
<line x1="468.85" y1="643.3" x2="516.15" y2="643.3" stroke="#2a2a2a" stroke-width="1.6" stroke-linecap="butt"/>
<line x1="522.53" y1="643.3" x2="524.74" y2="643.3" stroke="#2a2a2a" stroke-width="1.6" stroke-linecap="butt"/>
<line x1="531.12" y1="643.3" x2="578.42" y2="643.3" stroke="#2a2a2a" stroke-width="1.6" stroke-linecap="butt"/>
<line x1="584.8" y1="643.3" x2="587" y2="643.3" stroke="#2a2a2a" stroke-width="1.6" stroke-linecap="butt"/>
<line x1="593.39" y1="643.3" x2="640.69" y2="643.3" stroke="#2a2a2a" stroke-width="1.6" stroke-linecap="butt"/>
<line x1="647.07" y1="643.3" x2="649.27" y2="643.3" stroke="#2a2a2a" stroke-width="1.6" stroke-linecap="butt"/>
<line x1="655.66" y1="643.3" x2="702.96" y2="643.3" stroke="#2a2a2a" stroke-width="1.6" stroke-linecap="butt"/>
<line x1="709.34" y1="643.3" x2="711.54" y2="643.3" stroke="#2a2a2a" stroke-width="1.6" stroke-linecap="butt"/>
<line x1="717.93" y1="643.3" x2="765.23" y2="643.3" stroke="#2a2a2a" stroke-width="1.6" stroke-linecap="butt"/>
<line x1="771.61" y1="643.3" x2="773.81" y2="643.3" stroke="#2a2a2a" stroke-width="1.6" stroke-linecap="butt"/>
<line x1="780.2" y1="643.3" x2="827.5" y2="643.3" stroke="#2a2a2a" stroke-width="1.6" stroke-linecap="butt"/>
<line x1="158.5" y1="104.5" x2="158.5" y2="150.5" stroke="#2a2a2a" stroke-width="1.6" stroke-linecap="butt"/>
<line x1="158.5" y1="157.2" x2="158.5" y2="159.4" stroke="#2a2a2a" stroke-width="1.6" stroke-linecap="butt"/>
<line x1="158.5" y1="166.1" x2="158.5" y2="212.1" stroke="#2a2a2a" stroke-width="1.6" stroke-linecap="butt"/>
<line x1="158.5" y1="218.8" x2="158.5" y2="221" stroke="#2a2a2a" stroke-width="1.6" stroke-linecap="butt"/>
<line x1="158.5" y1="227.7" x2="158.5" y2="273.7" stroke="#2a2a2a" stroke-width="1.6" stroke-linecap="butt"/>
<line x1="158.5" y1="280.4" x2="158.5" y2="282.6" stroke="#2a2a2a" stroke-width="1.6" stroke-linecap="butt"/>
<line x1="158.5" y1="289.3" x2="158.5" y2="335.3" stroke="#2a2a2a" stroke-width="1.6" stroke-linecap="butt"/>
<line x1="158.5" y1="342" x2="158.5" y2="344.2" stroke="#2a2a2a" stroke-width="1.6" stroke-linecap="butt"/>
<line x1="158.5" y1="350.9" x2="158.5" y2="396.9" stroke="#2a2a2a" stroke-width="1.6" stroke-linecap="butt"/>
<line x1="158.5" y1="403.6" x2="158.5" y2="405.8" stroke="#2a2a2a" stroke-width="1.6" stroke-linecap="butt"/>
<line x1="158.5" y1="412.5" x2="158.5" y2="458.5" stroke="#2a2a2a" stroke-width="1.6" stroke-linecap="butt"/>
<line x1="158.5" y1="465.2" x2="158.5" y2="467.4" stroke="#2a2a2a" stroke-width="1.6" stroke-linecap="butt"/>
<line x1="158.5" y1="474.1" x2="158.5" y2="520.1" stroke="#2a2a2a" stroke-width="1.6" stroke-linecap="butt"/>
<line x1="158.5" y1="526.8" x2="158.5" y2="529" stroke="#2a2a2a" stroke-width="1.6" stroke-linecap="butt"/>
<line x1="158.5" y1="535.7" x2="158.5" y2="581.7" stroke="#2a2a2a" stroke-width="1.6" stroke-linecap="butt"/>
<line x1="158.5" y1="588.4" x2="158.5" y2="590.6" stroke="#2a2a2a" stroke-width="1.6" stroke-linecap="butt"/>
<line x1="158.5" y1="597.3" x2="158.5" y2="643.3" stroke="#2a2a2a" stroke-width="1.6" stroke-linecap="butt"/>
<line x1="828.3" y1="104.5" x2="828.3" y2="150.5" stroke="#2a2a2a" stroke-width="1.6" stroke-linecap="butt"/>
<line x1="828.3" y1="157.2" x2="828.3" y2="159.4" stroke="#2a2a2a" stroke-width="1.6" stroke-linecap="butt"/>
<line x1="828.3" y1="166.1" x2="828.3" y2="212.1" stroke="#2a2a2a" stroke-width="1.6" stroke-linecap="butt"/>
<line x1="828.3" y1="218.8" x2="828.3" y2="221" stroke="#2a2a2a" stroke-width="1.6" stroke-linecap="butt"/>
<line x1="828.3" y1="227.7" x2="828.3" y2="273.7" stroke="#2a2a2a" stroke-width="1.6" stroke-linecap="butt"/>
<line x1="828.3" y1="280.4" x2="828.3" y2="282.6" stroke="#2a2a2a" stroke-width="1.6" stroke-linecap="butt"/>
<line x1="828.3" y1="289.3" x2="828.3" y2="335.3" stroke="#2a2a2a" stroke-width="1.6" stroke-linecap="butt"/>
<line x1="828.3" y1="342" x2="828.3" y2="344.2" stroke="#2a2a2a" stroke-width="1.6" stroke-linecap="butt"/>
<line x1="828.3" y1="350.9" x2="828.3" y2="396.9" stroke="#2a2a2a" stroke-width="1.6" stroke-linecap="butt"/>
<line x1="828.3" y1="403.6" x2="828.3" y2="405.8" stroke="#2a2a2a" stroke-width="1.6" stroke-linecap="butt"/>
<line x1="828.3" y1="412.5" x2="828.3" y2="458.5" stroke="#2a2a2a" stroke-width="1.6" stroke-linecap="butt"/>
<line x1="828.3" y1="465.2" x2="828.3" y2="467.4" stroke="#2a2a2a" stroke-width="1.6" stroke-linecap="butt"/>
<line x1="828.3" y1="474.1" x2="828.3" y2="520.1" stroke="#2a2a2a" stroke-width="1.6" stroke-linecap="butt"/>
<line x1="828.3" y1="526.8" x2="828.3" y2="529" stroke="#2a2a2a" stroke-width="1.6" stroke-linecap="butt"/>
<line x1="828.3" y1="535.7" x2="828.3" y2="581.7" stroke="#2a2a2a" stroke-width="1.6" stroke-linecap="butt"/>
<line x1="828.3" y1="588.4" x2="828.3" y2="590.6" stroke="#2a2a2a" stroke-width="1.6" stroke-linecap="butt"/>
<line x1="828.3" y1="597.3" x2="828.3" y2="643.3" stroke="#2a2a2a" stroke-width="1.6" stroke-linecap="butt"/>
<line x1="201.4" y1="240.7" x2="222.9" y2="240.7" stroke="#7e7e7e" stroke-width="1.3" stroke-linecap="butt"/>
<line x1="229.45" y1="240.7" x2="250.95" y2="240.7" stroke="#7e7e7e" stroke-width="1.3" stroke-linecap="butt"/>
<line x1="257.5" y1="240.7" x2="279" y2="240.7" stroke="#7e7e7e" stroke-width="1.3" stroke-linecap="butt"/>
<line x1="285.55" y1="240.7" x2="307.05" y2="240.7" stroke="#7e7e7e" stroke-width="1.3" stroke-linecap="butt"/>
<line x1="313.6" y1="240.7" x2="335.1" y2="240.7" stroke="#7e7e7e" stroke-width="1.3" stroke-linecap="butt"/>
<line x1="341.65" y1="240.7" x2="363.15" y2="240.7" stroke="#7e7e7e" stroke-width="1.3" stroke-linecap="butt"/>
<line x1="369.7" y1="240.7" x2="391.2" y2="240.7" stroke="#7e7e7e" stroke-width="1.3" stroke-linecap="butt"/>
<line x1="397.75" y1="240.7" x2="419.25" y2="240.7" stroke="#7e7e7e" stroke-width="1.3" stroke-linecap="butt"/>
<line x1="425.8" y1="240.7" x2="447.3" y2="240.7" stroke="#7e7e7e" stroke-width="1.3" stroke-linecap="butt"/>
<line x1="453.85" y1="240.7" x2="475.35" y2="240.7" stroke="#7e7e7e" stroke-width="1.3" stroke-linecap="butt"/>
<line x1="481.9" y1="240.7" x2="503.4" y2="240.7" stroke="#7e7e7e" stroke-width="1.3" stroke-linecap="butt"/>
<line x1="509.95" y1="240.7" x2="531.45" y2="240.7" stroke="#7e7e7e" stroke-width="1.3" stroke-linecap="butt"/>
<line x1="538" y1="240.7" x2="559.5" y2="240.7" stroke="#7e7e7e" stroke-width="1.3" stroke-linecap="butt"/>
<line x1="566.05" y1="240.7" x2="587.55" y2="240.7" stroke="#7e7e7e" stroke-width="1.3" stroke-linecap="butt"/>
<line x1="594.1" y1="240.7" x2="615.6" y2="240.7" stroke="#7e7e7e" stroke-width="1.3" stroke-linecap="butt"/>
<line x1="622.15" y1="240.7" x2="643.65" y2="240.7" stroke="#7e7e7e" stroke-width="1.3" stroke-linecap="butt"/>
<line x1="650.2" y1="240.7" x2="671.7" y2="240.7" stroke="#7e7e7e" stroke-width="1.3" stroke-linecap="butt"/>
<line x1="678.25" y1="240.7" x2="699.75" y2="240.7" stroke="#7e7e7e" stroke-width="1.3" stroke-linecap="butt"/>
<line x1="706.3" y1="240.7" x2="727.8" y2="240.7" stroke="#7e7e7e" stroke-width="1.3" stroke-linecap="butt"/>
<line x1="734.35" y1="240.7" x2="755.85" y2="240.7" stroke="#7e7e7e" stroke-width="1.3" stroke-linecap="butt"/>
<line x1="762.4" y1="240.7" x2="783.9" y2="240.7" stroke="#7e7e7e" stroke-width="1.3" stroke-linecap="butt"/>
<line x1="790.45" y1="240.7" x2="811.95" y2="240.7" stroke="#7e7e7e" stroke-width="1.3" stroke-linecap="butt"/>
<line x1="818.5" y1="240.7" x2="825.5" y2="240.7" stroke="#7e7e7e" stroke-width="1.3" stroke-linecap="butt"/>
<line x1="201.4" y1="507.2" x2="222.9" y2="507.2" stroke="#7e7e7e" stroke-width="1.3" stroke-linecap="butt"/>
<line x1="229.45" y1="507.2" x2="250.95" y2="507.2" stroke="#7e7e7e" stroke-width="1.3" stroke-linecap="butt"/>
<line x1="257.5" y1="507.2" x2="279" y2="507.2" stroke="#7e7e7e" stroke-width="1.3" stroke-linecap="butt"/>
<line x1="285.55" y1="507.2" x2="307.05" y2="507.2" stroke="#7e7e7e" stroke-width="1.3" stroke-linecap="butt"/>
<line x1="313.6" y1="507.2" x2="335.1" y2="507.2" stroke="#7e7e7e" stroke-width="1.3" stroke-linecap="butt"/>
<line x1="341.65" y1="507.2" x2="363.15" y2="507.2" stroke="#7e7e7e" stroke-width="1.3" stroke-linecap="butt"/>
<line x1="369.7" y1="507.2" x2="391.2" y2="507.2" stroke="#7e7e7e" stroke-width="1.3" stroke-linecap="butt"/>
<line x1="397.75" y1="507.2" x2="419.25" y2="507.2" stroke="#7e7e7e" stroke-width="1.3" stroke-linecap="butt"/>
<line x1="425.8" y1="507.2" x2="447.3" y2="507.2" stroke="#7e7e7e" stroke-width="1.3" stroke-linecap="butt"/>
<line x1="453.85" y1="507.2" x2="475.35" y2="507.2" stroke="#7e7e7e" stroke-width="1.3" stroke-linecap="butt"/>
<line x1="481.9" y1="507.2" x2="503.4" y2="507.2" stroke="#7e7e7e" stroke-width="1.3" stroke-linecap="butt"/>
<line x1="509.95" y1="507.2" x2="531.45" y2="507.2" stroke="#7e7e7e" stroke-width="1.3" stroke-linecap="butt"/>
<line x1="538" y1="507.2" x2="559.5" y2="507.2" stroke="#7e7e7e" stroke-width="1.3" stroke-linecap="butt"/>
<line x1="566.05" y1="507.2" x2="587.55" y2="507.2" stroke="#7e7e7e" stroke-width="1.3" stroke-linecap="butt"/>
<line x1="594.1" y1="507.2" x2="615.6" y2="507.2" stroke="#7e7e7e" stroke-width="1.3" stroke-linecap="butt"/>
<line x1="622.15" y1="507.2" x2="643.65" y2="507.2" stroke="#7e7e7e" stroke-width="1.3" stroke-linecap="butt"/>
<line x1="650.2" y1="507.2" x2="671.7" y2="507.2" stroke="#7e7e7e" stroke-width="1.3" stroke-linecap="butt"/>
<line x1="678.25" y1="507.2" x2="699.75" y2="507.2" stroke="#7e7e7e" stroke-width="1.3" stroke-linecap="butt"/>
<line x1="706.3" y1="507.2" x2="727.8" y2="507.2" stroke="#7e7e7e" stroke-width="1.3" stroke-linecap="butt"/>
<line x1="734.35" y1="507.2" x2="755.85" y2="507.2" stroke="#7e7e7e" stroke-width="1.3" stroke-linecap="butt"/>
<line x1="762.4" y1="507.2" x2="783.9" y2="507.2" stroke="#7e7e7e" stroke-width="1.3" stroke-linecap="butt"/>
<line x1="790.45" y1="507.2" x2="811.95" y2="507.2" stroke="#7e7e7e" stroke-width="1.3" stroke-linecap="butt"/>
<line x1="818.5" y1="507.2" x2="825.5" y2="507.2" stroke="#7e7e7e" stroke-width="1.3" stroke-linecap="butt"/>
<line x1="201.4" y1="240.7" x2="201.4" y2="261.2" stroke="#7e7e7e" stroke-width="1.3" stroke-linecap="butt"/>
<line x1="201.4" y1="268" x2="201.4" y2="288.5" stroke="#7e7e7e" stroke-width="1.3" stroke-linecap="butt"/>
<line x1="201.4" y1="295.3" x2="201.4" y2="315.8" stroke="#7e7e7e" stroke-width="1.3" stroke-linecap="butt"/>
<line x1="201.4" y1="322.6" x2="201.4" y2="343.1" stroke="#7e7e7e" stroke-width="1.3" stroke-linecap="butt"/>
<line x1="201.4" y1="349.9" x2="201.4" y2="370.4" stroke="#7e7e7e" stroke-width="1.3" stroke-linecap="butt"/>
<line x1="201.4" y1="377.2" x2="201.4" y2="397.7" stroke="#7e7e7e" stroke-width="1.3" stroke-linecap="butt"/>
<line x1="201.4" y1="404.5" x2="201.4" y2="425" stroke="#7e7e7e" stroke-width="1.3" stroke-linecap="butt"/>
<line x1="201.4" y1="431.8" x2="201.4" y2="452.3" stroke="#7e7e7e" stroke-width="1.3" stroke-linecap="butt"/>
<line x1="201.4" y1="459.1" x2="201.4" y2="479.6" stroke="#7e7e7e" stroke-width="1.3" stroke-linecap="butt"/>
<line x1="201.4" y1="486.4" x2="201.4" y2="506.9" stroke="#7e7e7e" stroke-width="1.3" stroke-linecap="butt"/>
<line x1="337.3" y1="240.7" x2="337.3" y2="261.2" stroke="#7e7e7e" stroke-width="1.3" stroke-linecap="butt"/>
<line x1="337.3" y1="268" x2="337.3" y2="288.5" stroke="#7e7e7e" stroke-width="1.3" stroke-linecap="butt"/>
<line x1="337.3" y1="295.3" x2="337.3" y2="315.8" stroke="#7e7e7e" stroke-width="1.3" stroke-linecap="butt"/>
<line x1="337.3" y1="322.6" x2="337.3" y2="343.1" stroke="#7e7e7e" stroke-width="1.3" stroke-linecap="butt"/>
<line x1="337.3" y1="349.9" x2="337.3" y2="370.4" stroke="#7e7e7e" stroke-width="1.3" stroke-linecap="butt"/>
<line x1="337.3" y1="377.2" x2="337.3" y2="397.7" stroke="#7e7e7e" stroke-width="1.3" stroke-linecap="butt"/>
<line x1="337.3" y1="404.5" x2="337.3" y2="425" stroke="#7e7e7e" stroke-width="1.3" stroke-linecap="butt"/>
<line x1="337.3" y1="431.8" x2="337.3" y2="452.3" stroke="#7e7e7e" stroke-width="1.3" stroke-linecap="butt"/>
<line x1="337.3" y1="459.1" x2="337.3" y2="479.6" stroke="#7e7e7e" stroke-width="1.3" stroke-linecap="butt"/>
<line x1="337.3" y1="486.4" x2="337.3" y2="506.9" stroke="#7e7e7e" stroke-width="1.3" stroke-linecap="butt"/>
<line x1="473.4" y1="240.7" x2="473.4" y2="261.2" stroke="#7e7e7e" stroke-width="1.3" stroke-linecap="butt"/>
<line x1="473.4" y1="268" x2="473.4" y2="288.5" stroke="#7e7e7e" stroke-width="1.3" stroke-linecap="butt"/>
<line x1="473.4" y1="295.3" x2="473.4" y2="315.8" stroke="#7e7e7e" stroke-width="1.3" stroke-linecap="butt"/>
<line x1="473.4" y1="322.6" x2="473.4" y2="343.1" stroke="#7e7e7e" stroke-width="1.3" stroke-linecap="butt"/>
<line x1="473.4" y1="349.9" x2="473.4" y2="370.4" stroke="#7e7e7e" stroke-width="1.3" stroke-linecap="butt"/>
<line x1="473.4" y1="377.2" x2="473.4" y2="397.7" stroke="#7e7e7e" stroke-width="1.3" stroke-linecap="butt"/>
<line x1="473.4" y1="404.5" x2="473.4" y2="425" stroke="#7e7e7e" stroke-width="1.3" stroke-linecap="butt"/>
<line x1="473.4" y1="431.8" x2="473.4" y2="452.3" stroke="#7e7e7e" stroke-width="1.3" stroke-linecap="butt"/>
<line x1="473.4" y1="459.1" x2="473.4" y2="479.6" stroke="#7e7e7e" stroke-width="1.3" stroke-linecap="butt"/>
<line x1="473.4" y1="486.4" x2="473.4" y2="506.9" stroke="#7e7e7e" stroke-width="1.3" stroke-linecap="butt"/>
<line x1="642.5" y1="240.7" x2="642.5" y2="261.2" stroke="#7e7e7e" stroke-width="1.3" stroke-linecap="butt"/>
<line x1="642.5" y1="268" x2="642.5" y2="288.5" stroke="#7e7e7e" stroke-width="1.3" stroke-linecap="butt"/>
<line x1="642.5" y1="295.3" x2="642.5" y2="315.8" stroke="#7e7e7e" stroke-width="1.3" stroke-linecap="butt"/>
<line x1="642.5" y1="322.6" x2="642.5" y2="343.1" stroke="#7e7e7e" stroke-width="1.3" stroke-linecap="butt"/>
<line x1="642.5" y1="349.9" x2="642.5" y2="370.4" stroke="#7e7e7e" stroke-width="1.3" stroke-linecap="butt"/>
<line x1="642.5" y1="377.2" x2="642.5" y2="397.7" stroke="#7e7e7e" stroke-width="1.3" stroke-linecap="butt"/>
<line x1="642.5" y1="404.5" x2="642.5" y2="425" stroke="#7e7e7e" stroke-width="1.3" stroke-linecap="butt"/>
<line x1="642.5" y1="431.8" x2="642.5" y2="452.3" stroke="#7e7e7e" stroke-width="1.3" stroke-linecap="butt"/>
<line x1="642.5" y1="459.1" x2="642.5" y2="479.6" stroke="#7e7e7e" stroke-width="1.3" stroke-linecap="butt"/>
<line x1="642.5" y1="486.4" x2="642.5" y2="506.9" stroke="#7e7e7e" stroke-width="1.3" stroke-linecap="butt"/>
<line x1="811.9" y1="240.7" x2="811.9" y2="261.2" stroke="#7e7e7e" stroke-width="1.3" stroke-linecap="butt"/>
<line x1="811.9" y1="268" x2="811.9" y2="288.5" stroke="#7e7e7e" stroke-width="1.3" stroke-linecap="butt"/>
<line x1="811.9" y1="295.3" x2="811.9" y2="315.8" stroke="#7e7e7e" stroke-width="1.3" stroke-linecap="butt"/>
<line x1="811.9" y1="322.6" x2="811.9" y2="343.1" stroke="#7e7e7e" stroke-width="1.3" stroke-linecap="butt"/>
<line x1="811.9" y1="349.9" x2="811.9" y2="370.4" stroke="#7e7e7e" stroke-width="1.3" stroke-linecap="butt"/>
<line x1="811.9" y1="377.2" x2="811.9" y2="397.7" stroke="#7e7e7e" stroke-width="1.3" stroke-linecap="butt"/>
<line x1="811.9" y1="404.5" x2="811.9" y2="425" stroke="#7e7e7e" stroke-width="1.3" stroke-linecap="butt"/>
<line x1="811.9" y1="431.8" x2="811.9" y2="452.3" stroke="#7e7e7e" stroke-width="1.3" stroke-linecap="butt"/>
<line x1="811.9" y1="459.1" x2="811.9" y2="479.6" stroke="#7e7e7e" stroke-width="1.3" stroke-linecap="butt"/>
<line x1="811.9" y1="486.4" x2="811.9" y2="506.9" stroke="#7e7e7e" stroke-width="1.3" stroke-linecap="butt"/>
<line x1="510.2" y1="507.2" x2="698.4" y2="507.2" stroke="#4a4a4a" stroke-width="1.2" stroke-linecap="butt"/>
<line x1="148" y1="83.4" x2="838.6" y2="83.4" stroke="#676767" stroke-width="1" stroke-linecap="butt"/>
<polygon fill="#4a4a4a" points="158.4,83.4 151.9,85 151.9,81.8"/>
<polygon fill="#4a4a4a" points="828.4,83.4 834.9,81.8 834.9,85"/>
<line x1="158.4" y1="80.5" x2="158.4" y2="104.5" stroke="#676767" stroke-width="1" stroke-linecap="butt"/>
<line x1="828.4" y1="80.5" x2="828.4" y2="104.5" stroke="#676767" stroke-width="1" stroke-linecap="butt"/>
<text x="478.4" y="80.65" font-family="Liberation Sans, sans-serif" font-weight="bold" font-style="italic" font-size="12.1" textLength="30.8" lengthAdjust="spacingAndGlyphs" fill="#0a0a0a" stroke="#0a0a0a" stroke-width="0.6">5029</text>
<line x1="128.2" y1="93" x2="128.2" y2="654.2" stroke="#676767" stroke-width="1" stroke-linecap="butt"/>
<polygon fill="#4a4a4a" points="128.2,104.5 126.6,98 129.8,98"/>
<polygon fill="#4a4a4a" points="128.2,643.3 129.8,649.8 126.6,649.8"/>
<line x1="125.1" y1="104.5" x2="158.5" y2="104.5" stroke="#676767" stroke-width="1" stroke-linecap="butt"/>
<line x1="125.1" y1="643.3" x2="158.5" y2="643.3" stroke="#676767" stroke-width="1" stroke-linecap="butt"/>
<text transform="translate(125.8,388.8) rotate(-90)" x="0" y="0" font-family="Liberation Sans, sans-serif" font-weight="bold" font-style="italic" font-size="11.6" textLength="30.9" lengthAdjust="spacingAndGlyphs" fill="#0a0a0a" stroke="#0a0a0a" stroke-width="0.6">4046</text>
<text x="219.6" y="157.2" font-family="Liberation Sans, sans-serif" font-style="italic" font-size="15.4" textLength="374" lengthAdjust="spacingAndGlyphs" fill="#0d0d0d" stroke="#0d0d0d" stroke-width="0.2">Чертеж свайного фундамета для бани ОВАЛ бочки</text>
<line x1="201.4" y1="187.6" x2="811.9" y2="187.6" stroke="#676767" stroke-width="1" stroke-linecap="butt"/>
<polygon fill="#4a4a4a" points="201.4,187.6 207.9,186 207.9,189.2"/>
<polygon fill="#4a4a4a" points="811.9,187.6 805.4,189.2 805.4,186"/>
<line x1="201.4" y1="184.5" x2="201.4" y2="240.7" stroke="#676767" stroke-width="1" stroke-linecap="butt"/>
<line x1="811.9" y1="184.5" x2="811.9" y2="240.7" stroke="#676767" stroke-width="1" stroke-linecap="butt"/>
<text x="492.2" y="184.15" font-family="Liberation Sans, sans-serif" font-weight="bold" font-style="italic" font-size="12.1" textLength="30.3" lengthAdjust="spacingAndGlyphs" fill="#0a0a0a" stroke="#0a0a0a" stroke-width="0.6">4586</text>
<line x1="201.4" y1="214.4" x2="337.3" y2="214.4" stroke="#676767" stroke-width="1" stroke-linecap="butt"/>
<polygon fill="#4a4a4a" points="201.4,214.4 207.9,212.8 207.9,216"/>
<polygon fill="#4a4a4a" points="337.3,214.4 330.8,216 330.8,212.8"/>
<text x="249.7" y="211.95" font-family="Liberation Sans, sans-serif" font-weight="bold" font-style="italic" font-size="12.1" textLength="41.9" lengthAdjust="spacingAndGlyphs" fill="#0a0a0a" stroke="#0a0a0a" stroke-width="0.6">1021,5</text>
<line x1="337.3" y1="214.4" x2="473.4" y2="214.4" stroke="#676767" stroke-width="1" stroke-linecap="butt"/>
<polygon fill="#4a4a4a" points="337.3,214.4 343.8,212.8 343.8,216"/>
<polygon fill="#4a4a4a" points="473.4,214.4 466.9,216 466.9,212.8"/>
<text x="385.7" y="211.95" font-family="Liberation Sans, sans-serif" font-weight="bold" font-style="italic" font-size="12.1" textLength="41.7" lengthAdjust="spacingAndGlyphs" fill="#0a0a0a" stroke="#0a0a0a" stroke-width="0.6">1021,5</text>
<line x1="473.4" y1="214.4" x2="642.5" y2="214.4" stroke="#676767" stroke-width="1" stroke-linecap="butt"/>
<polygon fill="#4a4a4a" points="473.4,214.4 479.9,212.8 479.9,216"/>
<polygon fill="#4a4a4a" points="642.5,214.4 636,216 636,212.8"/>
<text x="538.4" y="211.95" font-family="Liberation Sans, sans-serif" font-weight="bold" font-style="italic" font-size="12.1" textLength="40.6" lengthAdjust="spacingAndGlyphs" fill="#0a0a0a" stroke="#0a0a0a" stroke-width="0.6">1271,5</text>
<line x1="642.5" y1="214.4" x2="811.9" y2="214.4" stroke="#676767" stroke-width="1" stroke-linecap="butt"/>
<polygon fill="#4a4a4a" points="642.5,214.4 649,212.8 649,216"/>
<polygon fill="#4a4a4a" points="811.9,214.4 805.4,216 805.4,212.8"/>
<text x="707.6" y="211.95" font-family="Liberation Sans, sans-serif" font-weight="bold" font-style="italic" font-size="12.1" textLength="41.7" lengthAdjust="spacingAndGlyphs" fill="#0a0a0a" stroke="#0a0a0a" stroke-width="0.6">1271,5</text>
<line x1="337.3" y1="211.9" x2="337.3" y2="240.7" stroke="#676767" stroke-width="1" stroke-linecap="butt"/>
<line x1="473.4" y1="211.9" x2="473.4" y2="240.7" stroke="#676767" stroke-width="1" stroke-linecap="butt"/>
<line x1="642.5" y1="211.9" x2="642.5" y2="240.7" stroke="#676767" stroke-width="1" stroke-linecap="butt"/>
<line x1="225.5" y1="271" x2="259.7" y2="271" stroke="#707070" stroke-width="1.2" stroke-linecap="butt"/>
<line x1="225.5" y1="271" x2="193.31" y2="230.53" stroke="#4a4a4a" stroke-width="1" stroke-linecap="butt"/>
<polygon fill="#6a6a6a" points="209.49,250.87 204.22,247.14 207.04,244.9"/>
<polygon fill="#6a6a6a" points="193.31,230.53 198.58,234.26 195.76,236.5"/>
<circle cx="231.8" cy="264.4" r="3.4" fill="none" stroke="#808080" stroke-width="0.95"/>
<line x1="227.9" y1="268.2" x2="236.1" y2="260.5" stroke="#6a6a6a" stroke-width="0.95" stroke-linecap="butt"/>
<text x="236.7" y="268.35" font-family="Liberation Sans, sans-serif" font-weight="bold" font-style="italic" font-size="12.1" textLength="24" lengthAdjust="spacingAndGlyphs" fill="#0a0a0a" stroke="#0a0a0a" stroke-width="0.6">200</text>
<line x1="220.2" y1="484" x2="254.4" y2="484" stroke="#707070" stroke-width="1.2" stroke-linecap="butt"/>
<line x1="220.2" y1="484" x2="193.22" y2="517.3" stroke="#4a4a4a" stroke-width="1" stroke-linecap="butt"/>
<polygon fill="#6a6a6a" points="209.58,497.1 207.08,503.05 204.28,500.78"/>
<polygon fill="#6a6a6a" points="193.22,517.3 195.72,511.35 198.52,513.62"/>
<circle cx="226.5" cy="477.4" r="3.4" fill="none" stroke="#808080" stroke-width="0.95"/>
<line x1="222.6" y1="481.2" x2="230.8" y2="473.5" stroke="#6a6a6a" stroke-width="0.95" stroke-linecap="butt"/>
<text x="231.4" y="481.35" font-family="Liberation Sans, sans-serif" font-weight="bold" font-style="italic" font-size="12.1" textLength="24" lengthAdjust="spacingAndGlyphs" fill="#0a0a0a" stroke="#0a0a0a" stroke-width="0.6">200</text>
<line x1="279" y1="271" x2="313.6" y2="271" stroke="#707070" stroke-width="1.2" stroke-linecap="butt"/>
<line x1="313.6" y1="271" x2="345.31" y2="230.46" stroke="#4a4a4a" stroke-width="1" stroke-linecap="butt"/>
<polygon fill="#6a6a6a" points="329.29,250.94 331.69,244.95 334.53,247.17"/>
<polygon fill="#6a6a6a" points="345.31,230.46 342.91,236.45 340.07,234.23"/>
<circle cx="282.9" cy="264.4" r="3.4" fill="none" stroke="#808080" stroke-width="0.95"/>
<line x1="279" y1="268.2" x2="287.2" y2="260.5" stroke="#6a6a6a" stroke-width="0.95" stroke-linecap="butt"/>
<text x="287.8" y="268.35" font-family="Liberation Sans, sans-serif" font-weight="bold" font-style="italic" font-size="12.1" textLength="24.3" lengthAdjust="spacingAndGlyphs" fill="#0a0a0a" stroke="#0a0a0a" stroke-width="0.6">200</text>
<line x1="284.4" y1="484" x2="318.4" y2="484" stroke="#707070" stroke-width="1.2" stroke-linecap="butt"/>
<line x1="318.4" y1="484" x2="345.51" y2="517.28" stroke="#4a4a4a" stroke-width="1" stroke-linecap="butt"/>
<polygon fill="#6a6a6a" points="329.09,497.12 334.4,500.79 331.61,503.06"/>
<polygon fill="#6a6a6a" points="345.51,517.28 340.2,513.61 342.99,511.34"/>
<circle cx="288.3" cy="477.4" r="3.4" fill="none" stroke="#808080" stroke-width="0.95"/>
<line x1="284.4" y1="481.2" x2="292.6" y2="473.5" stroke="#6a6a6a" stroke-width="0.95" stroke-linecap="butt"/>
<text x="293.2" y="481.35" font-family="Liberation Sans, sans-serif" font-weight="bold" font-style="italic" font-size="12.1" textLength="23.7" lengthAdjust="spacingAndGlyphs" fill="#0a0a0a" stroke="#0a0a0a" stroke-width="0.6">200</text>
<line x1="415" y1="271" x2="449.6" y2="271" stroke="#707070" stroke-width="1.2" stroke-linecap="butt"/>
<line x1="449.6" y1="271" x2="481.43" y2="230.48" stroke="#4a4a4a" stroke-width="1" stroke-linecap="butt"/>
<polygon fill="#6a6a6a" points="465.37,250.92 467.78,244.94 470.62,247.16"/>
<polygon fill="#6a6a6a" points="481.43,230.48 479.02,236.46 476.18,234.24"/>
<circle cx="418.9" cy="264.4" r="3.4" fill="none" stroke="#808080" stroke-width="0.95"/>
<line x1="415" y1="268.2" x2="423.2" y2="260.5" stroke="#6a6a6a" stroke-width="0.95" stroke-linecap="butt"/>
<text x="423.8" y="268.35" font-family="Liberation Sans, sans-serif" font-weight="bold" font-style="italic" font-size="12.1" textLength="24.3" lengthAdjust="spacingAndGlyphs" fill="#0a0a0a" stroke="#0a0a0a" stroke-width="0.6">200</text>
<line x1="420.4" y1="484" x2="454.4" y2="484" stroke="#707070" stroke-width="1.2" stroke-linecap="butt"/>
<line x1="454.4" y1="484" x2="481.64" y2="517.26" stroke="#4a4a4a" stroke-width="1" stroke-linecap="butt"/>
<polygon fill="#6a6a6a" points="465.16,497.14 470.48,500.8 467.7,503.08"/>
<polygon fill="#6a6a6a" points="481.64,517.26 476.32,513.6 479.1,511.32"/>
<circle cx="424.3" cy="477.4" r="3.4" fill="none" stroke="#808080" stroke-width="0.95"/>
<line x1="420.4" y1="481.2" x2="428.6" y2="473.5" stroke="#6a6a6a" stroke-width="0.95" stroke-linecap="butt"/>
<text x="429.2" y="481.35" font-family="Liberation Sans, sans-serif" font-weight="bold" font-style="italic" font-size="12.1" textLength="23.7" lengthAdjust="spacingAndGlyphs" fill="#0a0a0a" stroke="#0a0a0a" stroke-width="0.6">200</text>
<line x1="584" y1="271" x2="618.6" y2="271" stroke="#707070" stroke-width="1.2" stroke-linecap="butt"/>
<line x1="618.6" y1="271" x2="650.55" y2="230.49" stroke="#4a4a4a" stroke-width="1" stroke-linecap="butt"/>
<polygon fill="#6a6a6a" points="634.45,250.91 636.88,244.92 639.7,247.15"/>
<polygon fill="#6a6a6a" points="650.55,230.49 648.12,236.48 645.3,234.25"/>
<circle cx="587.9" cy="264.4" r="3.4" fill="none" stroke="#808080" stroke-width="0.95"/>
<line x1="584" y1="268.2" x2="592.2" y2="260.5" stroke="#6a6a6a" stroke-width="0.95" stroke-linecap="butt"/>
<text x="592.8" y="268.35" font-family="Liberation Sans, sans-serif" font-weight="bold" font-style="italic" font-size="12.1" textLength="24.3" lengthAdjust="spacingAndGlyphs" fill="#0a0a0a" stroke="#0a0a0a" stroke-width="0.6">200</text>
<line x1="589.4" y1="484" x2="623.4" y2="484" stroke="#707070" stroke-width="1.2" stroke-linecap="butt"/>
<line x1="623.4" y1="484" x2="650.76" y2="517.24" stroke="#4a4a4a" stroke-width="1" stroke-linecap="butt"/>
<polygon fill="#6a6a6a" points="634.24,497.16 639.57,500.81 636.79,503.09"/>
<polygon fill="#6a6a6a" points="650.76,517.24 645.43,513.59 648.21,511.31"/>
<circle cx="593.3" cy="477.4" r="3.4" fill="none" stroke="#808080" stroke-width="0.95"/>
<line x1="589.4" y1="481.2" x2="597.6" y2="473.5" stroke="#6a6a6a" stroke-width="0.95" stroke-linecap="butt"/>
<text x="598.2" y="481.35" font-family="Liberation Sans, sans-serif" font-weight="bold" font-style="italic" font-size="12.1" textLength="23.7" lengthAdjust="spacingAndGlyphs" fill="#0a0a0a" stroke="#0a0a0a" stroke-width="0.6">200</text>
<line x1="753.8" y1="271" x2="788.4" y2="271" stroke="#707070" stroke-width="1.2" stroke-linecap="butt"/>
<line x1="788.4" y1="271" x2="819.87" y2="230.43" stroke="#4a4a4a" stroke-width="1" stroke-linecap="butt"/>
<polygon fill="#6a6a6a" points="803.93,250.97 806.31,244.97 809.15,247.18"/>
<polygon fill="#6a6a6a" points="819.87,230.43 817.49,236.43 814.65,234.22"/>
<circle cx="757.7" cy="264.4" r="3.4" fill="none" stroke="#808080" stroke-width="0.95"/>
<line x1="753.8" y1="268.2" x2="762" y2="260.5" stroke="#6a6a6a" stroke-width="0.95" stroke-linecap="butt"/>
<text x="762.6" y="268.35" font-family="Liberation Sans, sans-serif" font-weight="bold" font-style="italic" font-size="12.1" textLength="24.3" lengthAdjust="spacingAndGlyphs" fill="#0a0a0a" stroke="#0a0a0a" stroke-width="0.6">200</text>
<line x1="759.1" y1="484" x2="793.1" y2="484" stroke="#707070" stroke-width="1.2" stroke-linecap="butt"/>
<line x1="793.1" y1="484" x2="820.08" y2="517.3" stroke="#4a4a4a" stroke-width="1" stroke-linecap="butt"/>
<polygon fill="#6a6a6a" points="803.72,497.1 809.02,500.78 806.22,503.05"/>
<polygon fill="#6a6a6a" points="820.08,517.3 814.78,513.62 817.58,511.35"/>
<circle cx="763" cy="477.4" r="3.4" fill="none" stroke="#808080" stroke-width="0.95"/>
<line x1="759.1" y1="481.2" x2="767.3" y2="473.5" stroke="#6a6a6a" stroke-width="0.95" stroke-linecap="butt"/>
<text x="767.9" y="481.35" font-family="Liberation Sans, sans-serif" font-weight="bold" font-style="italic" font-size="12.1" textLength="23.7" lengthAdjust="spacingAndGlyphs" fill="#0a0a0a" stroke="#0a0a0a" stroke-width="0.6">200</text>
<circle cx="201.4" cy="240.7" r="13" fill="none" stroke="#1c1c1c" stroke-width="1.5"/>
<circle cx="201.4" cy="507.2" r="13" fill="none" stroke="#1c1c1c" stroke-width="1.5"/>
<circle cx="337.3" cy="240.7" r="13" fill="none" stroke="#1c1c1c" stroke-width="1.5"/>
<circle cx="337.3" cy="507.2" r="13" fill="none" stroke="#1c1c1c" stroke-width="1.5"/>
<circle cx="473.4" cy="240.7" r="13" fill="none" stroke="#1c1c1c" stroke-width="1.5"/>
<circle cx="473.4" cy="507.2" r="13" fill="none" stroke="#1c1c1c" stroke-width="1.5"/>
<circle cx="642.5" cy="240.7" r="13" fill="none" stroke="#1c1c1c" stroke-width="1.5"/>
<circle cx="642.5" cy="507.2" r="13" fill="none" stroke="#1c1c1c" stroke-width="1.5"/>
<circle cx="811.9" cy="240.7" r="13" fill="none" stroke="#1c1c1c" stroke-width="1.5"/>
<circle cx="811.9" cy="507.2" r="13" fill="none" stroke="#1c1c1c" stroke-width="1.5"/>
<text transform="translate(53.4,284.7) scale(0.78,1)" x="0 18.46 36.41 52.95 72.56 88.72 107.18 124.36 141.03 157.69 175.51" y="0" font-family="Liberation Sans, sans-serif" font-style="italic" font-size="24.5" fill="#2a2a2a">Вход в баню</text>
<line x1="197.7" y1="288.4" x2="218.1" y2="288.4" stroke="#222" stroke-width="1.3" stroke-linecap="butt"/>
<line x1="801" y1="301.7" x2="1022.2" y2="301.7" stroke="#676767" stroke-width="1" stroke-linecap="butt"/>
<polygon fill="#4a4a4a" points="811.9,301.7 805.4,303.3 805.4,300.1"/>
<polygon fill="#4a4a4a" points="1011.3,301.7 1017.8,300.1 1017.8,303.3"/>
<line x1="1011.2" y1="298.5" x2="1011.2" y2="409" stroke="#676767" stroke-width="1" stroke-linecap="butt"/>
<text x="896.5" y="298.95" font-family="Liberation Sans, sans-serif" font-weight="bold" font-style="italic" font-size="12.1" textLength="31.1" lengthAdjust="spacingAndGlyphs" fill="#0a0a0a" stroke="#0a0a0a" stroke-width="0.6">2000</text>
<line x1="823.9" y1="240.7" x2="823.9" y2="507.2" stroke="#676767" stroke-width="1" stroke-linecap="butt"/>
<polygon fill="#4a4a4a" points="823.9,240.7 825.5,247.2 822.3,247.2"/>
<polygon fill="#4a4a4a" points="823.9,507.2 822.3,500.7 825.5,500.7"/>
<line x1="811.9" y1="240.7" x2="826" y2="240.7" stroke="#676767" stroke-width="1" stroke-linecap="butt"/>
<text transform="translate(820.8,389) rotate(-90)" x="0" y="0" font-family="Liberation Sans, sans-serif" font-weight="bold" font-style="italic" font-size="11.6" textLength="31.1" lengthAdjust="spacingAndGlyphs" fill="#0a0a0a" stroke="#0a0a0a" stroke-width="0.6">2000</text>
<line x1="514" y1="496" x2="514" y2="717.8" stroke="#676767" stroke-width="1" stroke-linecap="butt"/>
<polygon fill="#4a4a4a" points="514,507.2 512.4,500.7 515.6,500.7"/>
<polygon fill="#4a4a4a" points="514,706.8 515.6,713.3 512.4,713.3"/>
<line x1="513.4" y1="706.6" x2="640" y2="706.6" stroke="#8a8a8a" stroke-width="1.2" stroke-linecap="butt"/>
<text transform="translate(511.7,621.8) rotate(-90)" x="0" y="0" font-family="Liberation Sans, sans-serif" font-weight="bold" font-style="italic" font-size="11.6" textLength="30.8" lengthAdjust="spacingAndGlyphs" fill="#0a0a0a" stroke="#0a0a0a" stroke-width="0.6">2000</text>
<text transform="translate(637.4,14.7) scale(0.75,1)" x="0" y="0" font-family="Liberation Mono, monospace" font-style="italic" font-size="12.4" textLength="315.47" lengthAdjust="spacing" fill="#3a3a3a">Проекция площадки для монтажа бани</text>
<line x1="634" y1="17.3" x2="874.7" y2="17.3" stroke="#555" stroke-width="1.1" stroke-linecap="butt"/>
<line x1="634" y1="17.3" x2="611" y2="40.3" stroke="#444" stroke-width="1" stroke-linecap="butt"/>
<text transform="translate(621,61.5) scale(0.75,1)" x="0" y="0" font-family="Liberation Mono, monospace" font-style="italic" font-size="12" textLength="151.2" lengthAdjust="spacing" fill="#3a3a3a">Проекция строения</text>
<line x1="617.5" y1="65" x2="734.4" y2="65" stroke="#777" stroke-width="1.6" stroke-linecap="butt"/>
<line x1="617.5" y1="65" x2="582.3" y2="104.2" stroke="#444" stroke-width="1" stroke-linecap="butt"/>
</svg>
</body></html>
